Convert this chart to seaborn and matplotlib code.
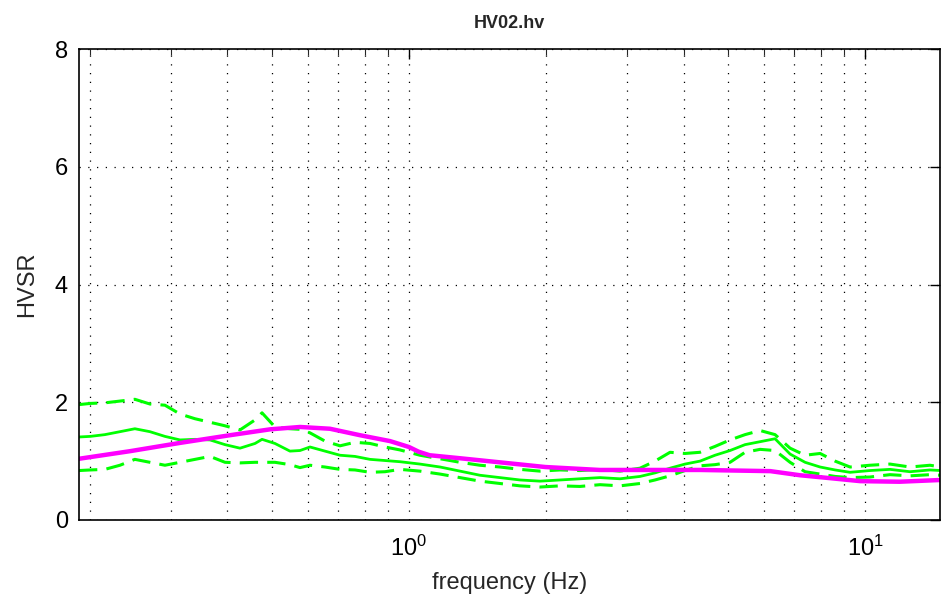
import numpy as np
import pandas as pd
import seaborn as sns
import matplotlib.pyplot as plt
from matplotlib.ticker import LogLocator, FixedLocator

# frequency samples (Hz) for the green curves
freq = [0.189, 0.200, 0.2154, 0.2324, 0.2506, 0.2704, 0.2917, 0.3147, 0.3395, 0.3662,
        0.3950, 0.4261, 0.4597, 0.4762, 0.5083, 0.5483, 0.5768, 0.6067, 0.6544, 0.7059,
        0.7614, 0.8214, 0.8860, 0.9556, 1.057, 1.170, 1.294, 1.431, 1.583, 1.751,
        1.938, 2.144, 2.371, 2.624, 2.903, 3.211, 3.463, 3.736, 4.030, 4.346,
        4.689, 5.058, 5.456, 5.886, 6.349, 6.849, 7.388, 7.970, 8.597, 9.271,
        10.25, 11.34, 12.55, 13.88, 14.68]

hv_mean = [1.41, 1.42, 1.45, 1.50, 1.55, 1.50, 1.42, 1.36, 1.37, 1.36,
           1.28, 1.22, 1.30, 1.37, 1.30, 1.17, 1.18, 1.24, 1.17, 1.10,
           1.08, 1.03, 1.01, 0.99, 0.95, 0.90, 0.83, 0.76, 0.72, 0.68,
           0.66, 0.68, 0.70, 0.72, 0.70, 0.74, 0.80, 0.88, 0.95, 1.00,
           1.10, 1.18, 1.28, 1.33, 1.38, 1.12, 0.98, 0.90, 0.85, 0.81,
           0.84, 0.86, 0.82, 0.85, 0.84]

hv_upper = [1.96, 1.98, 1.99, 2.02, 2.05, 1.97, 1.95, 1.80, 1.72, 1.66,
            1.60, 1.53, 1.70, 1.82, 1.58, 1.55, 1.54, 1.48, 1.34, 1.26,
            1.32, 1.30, 1.24, 1.19, 1.10, 1.04, 0.98, 0.93, 0.90, 0.86,
            0.83, 0.85, 0.84, 0.86, 0.83, 0.88, 1.00, 1.15, 1.13, 1.15,
            1.25, 1.36, 1.45, 1.52, 1.45, 1.22, 1.10, 1.13, 1.00, 0.90,
            0.93, 0.95, 0.90, 0.93, 0.90]

hv_lower = [0.84, 0.85, 0.86, 0.93, 1.03, 0.98, 0.93, 0.98, 1.03, 1.08,
            0.98, 0.97, 0.98, 0.98, 0.98, 0.94, 0.89, 0.93, 0.90, 0.86,
            0.85, 0.81, 0.82, 0.86, 0.83, 0.78, 0.72, 0.66, 0.62, 0.58,
            0.56, 0.58, 0.57, 0.60, 0.58, 0.62, 0.68, 0.75, 0.84, 0.92,
            0.94, 0.98, 1.15, 1.20, 1.18, 0.98, 0.82, 0.78, 0.74, 0.72,
            0.73, 0.77, 0.75, 0.77, 0.76]

# smooth magenta curve
fit_freq = [0.189, 0.245, 0.315, 0.405, 0.496, 0.577, 0.671, 0.781, 0.909, 1.0,
            1.05, 1.11, 1.29, 1.58, 1.99, 2.62, 4.35, 6.2, 7.2, 8.4, 9.76, 11.9, 14.68]
fit_hv = [1.04, 1.17, 1.31, 1.44, 1.54, 1.58, 1.55, 1.44, 1.34, 1.24,
          1.16, 1.10, 1.05, 0.98, 0.90, 0.85, 0.85, 0.83, 0.76, 0.71, 0.66, 0.65, 0.68]

df = pd.DataFrame({"freq": freq, "mean": hv_mean, "upper": hv_upper, "lower": hv_lower})
fit_df = pd.DataFrame({"freq": fit_freq, "hv": fit_hv})

sns.set_style("white")
plt.rcParams["font.family"] = ["Liberation Sans", "DejaVu Sans"]
plt.rcParams["mathtext.fontset"] = "custom"
plt.rcParams["mathtext.rm"] = "Liberation Sans"
plt.rcParams["mathtext.it"] = "Liberation Sans"

fig = plt.figure(figsize=(9.41, 6.10), dpi=100)
ax = fig.add_axes([79 / 941, 90 / 610, (940 - 79) / 941, (520 - 49) / 610])

green = "#00ff00"
sns.lineplot(data=df, x="freq", y="upper", ax=ax, color=green, lw=2.2,
             linestyle=(0, (6, 3)), estimator=None, sort=False)
sns.lineplot(data=df, x="freq", y="lower", ax=ax, color=green, lw=2.2,
             linestyle=(0, (6, 3)), estimator=None, sort=False)
sns.lineplot(data=df, x="freq", y="mean", ax=ax, color=green, lw=2.0,
             estimator=None, sort=False)
sns.lineplot(data=fit_df, x="freq", y="hv", ax=ax, color="#ff00ff", lw=3.2,
             estimator=None, sort=False)

ax.set_xscale("log")
ax.set_xlim(0.189, 14.6)
ax.set_ylim(0, 8)
ax.xaxis.set_major_locator(LogLocator(base=10))
ax.xaxis.set_minor_locator(LogLocator(base=10, subs=np.arange(2, 10)))
ax.yaxis.set_major_locator(FixedLocator([0, 2, 4, 6, 8]))

ax.grid(True, which="both", axis="x", color="black", linestyle=(0, (1, 6)), lw=0.9)
ax.grid(True, which="major", axis="y", color="black", linestyle=(0, (1, 6)), lw=0.9)
ax.set_axisbelow(True)

for s in ax.spines.values():
    s.set_color("black")
    s.set_linewidth(1.2)

ax.tick_params(which="major", direction="in", length=7, width=1, top=True, right=True,
               labelsize=17, colors="black")
ax.tick_params(which="minor", direction="in", length=4, width=0.8, top=True, right=True)
ax.tick_params(axis="y", pad=8)
ax.tick_params(axis="x", pad=11)

ax.set_xlabel("frequency (Hz)", fontsize=17, labelpad=8)
ax.set_ylabel("HVSR", fontsize=17, labelpad=12)
ax.set_title("HV02.hv", fontsize=13, fontweight="bold", pad=15)

fig.savefig("out.png", dpi=100)
